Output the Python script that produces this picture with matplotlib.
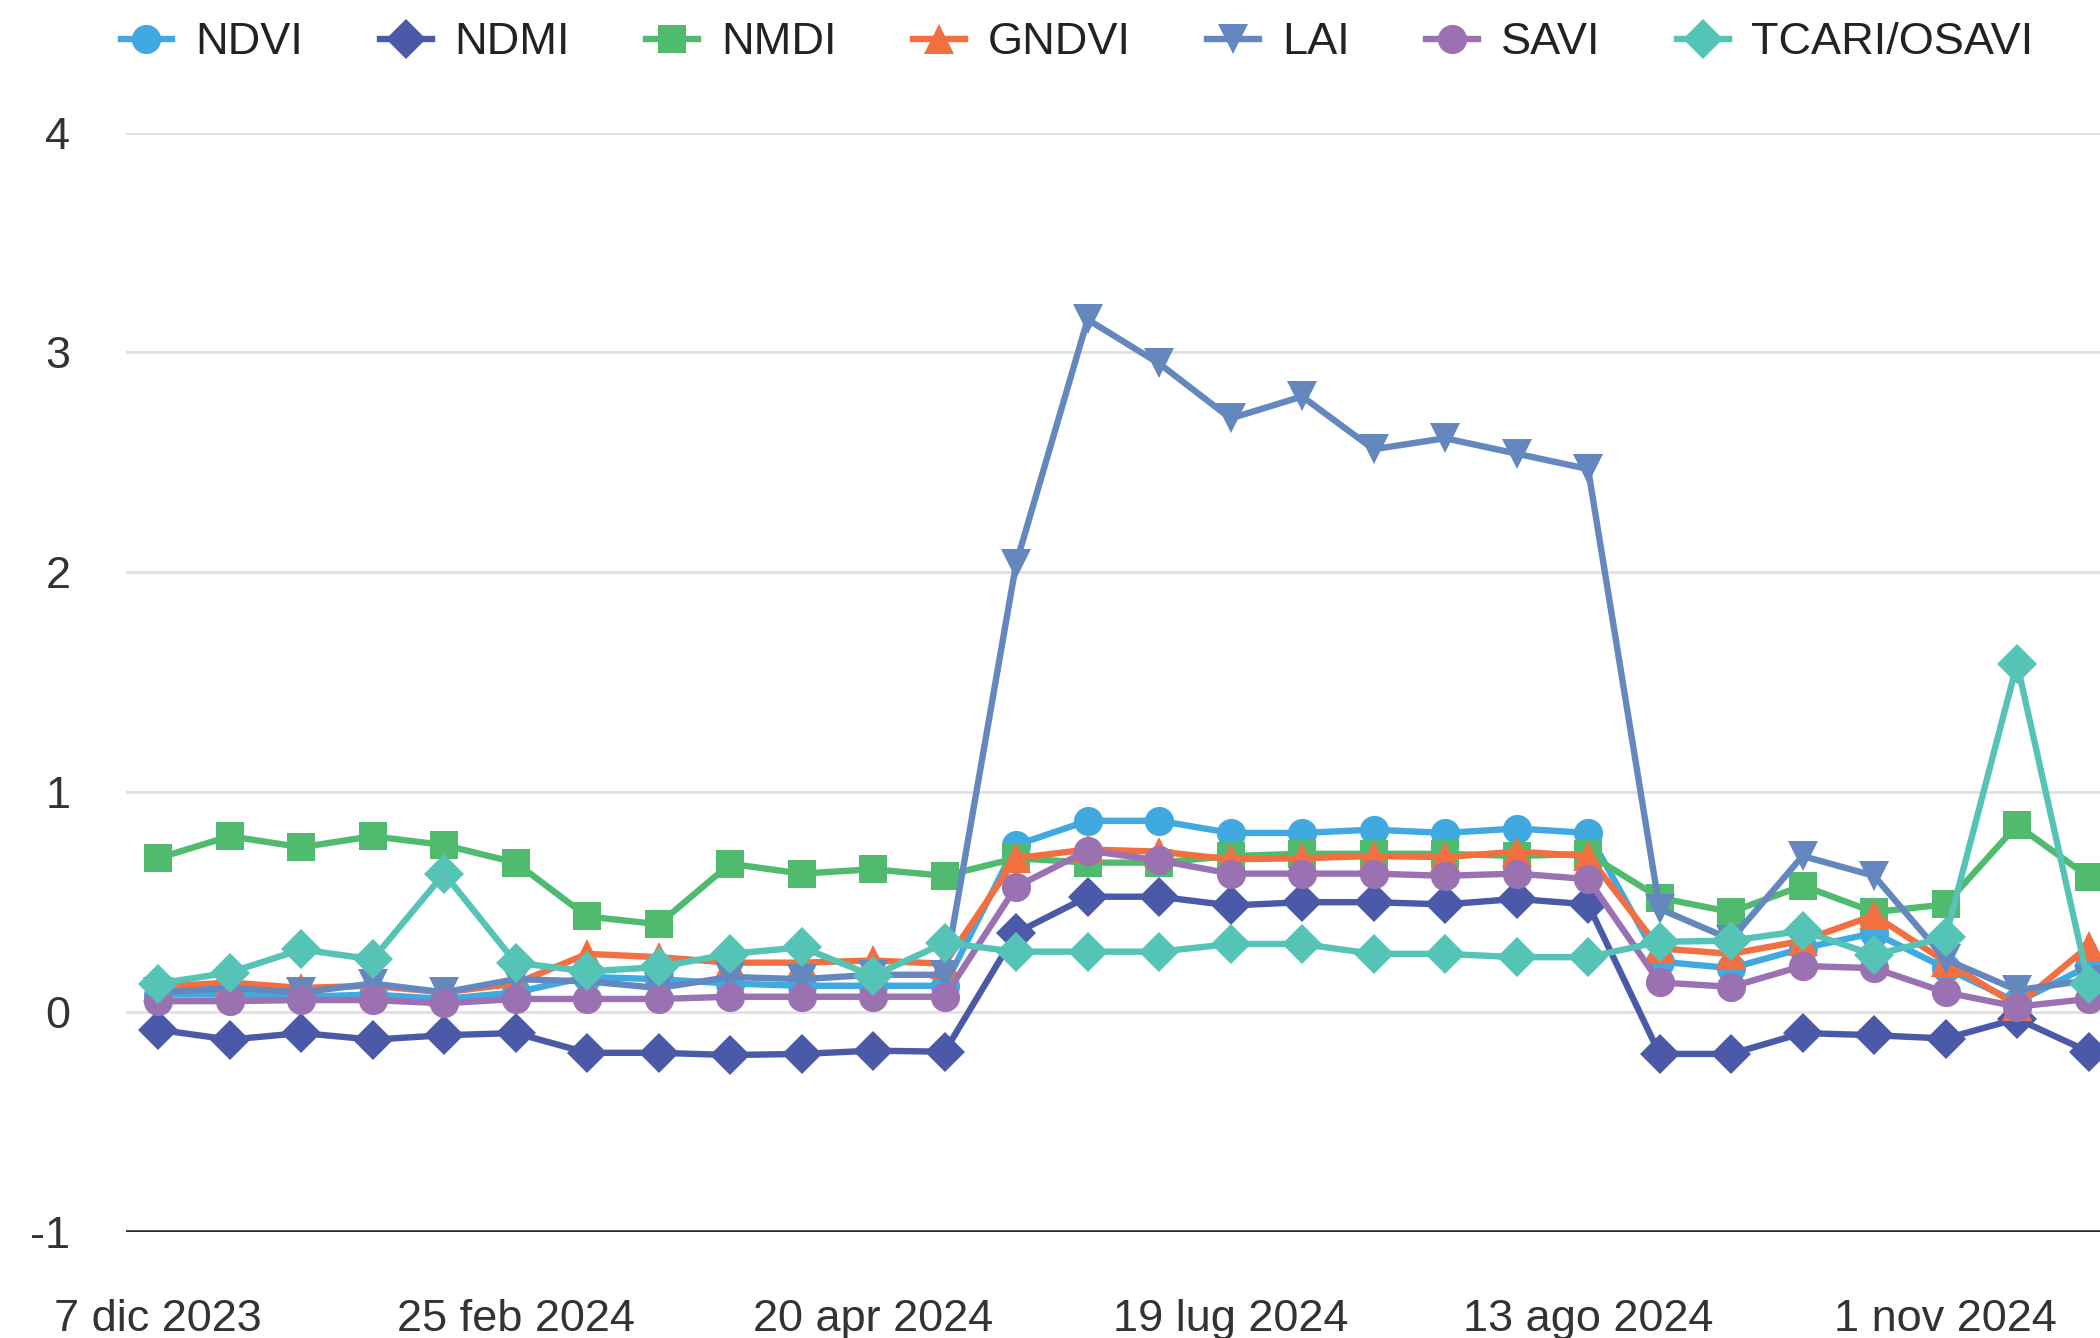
import numpy as np
import matplotlib
matplotlib.use('Agg')
from matplotlib import pyplot as plt

plt.rcParams['font.family'] = ['Liberation Sans', 'DejaVu Sans']
plt.rcParams['axes.unicode_minus'] = False

# one point per acquisition date, equally spaced
n_points = 28
tick_pos = [0, 5, 10, 15, 20, 25]
tick_labels = ['7 dic 2023', '25 feb 2024', '20 apr 2024', '19 lug 2024', '13 ago 2024', '1 nov 2024']

ndvi = [0.08, 0.08, 0.07, 0.08, 0.06, 0.09, 0.16, 0.15, 0.13, 0.12, 0.12, 0.12,
        0.76, 0.87, 0.87, 0.815, 0.815, 0.83, 0.815, 0.835, 0.815,
        0.23, 0.20, 0.29, 0.36, 0.20, 0.045, 0.21]
ndmi = [-0.08, -0.125, -0.095, -0.125, -0.105, -0.095, -0.185, -0.185, -0.195, -0.19, -0.175, -0.18,
        0.36, 0.525, 0.525, 0.485, 0.50, 0.50, 0.49, 0.515, 0.49,
        -0.19, -0.19, -0.095, -0.105, -0.12, -0.03, -0.18]
nmdi = [0.70, 0.80, 0.75, 0.80, 0.76, 0.68, 0.435, 0.40, 0.675, 0.63, 0.65, 0.62,
        0.70, 0.68, 0.68, 0.71, 0.72, 0.72, 0.72, 0.71, 0.72,
        0.52, 0.455, 0.575, 0.455, 0.49, 0.85, 0.615]
gndvi = [0.115, 0.135, 0.11, 0.12, 0.09, 0.13, 0.265, 0.25, 0.225, 0.225, 0.235, 0.22,
         0.70, 0.74, 0.73, 0.695, 0.70, 0.71, 0.705, 0.73, 0.71,
         0.29, 0.265, 0.325, 0.44, 0.23, 0.03, 0.30]
lai = [0.09, 0.11, 0.09, 0.13, 0.09, 0.15, 0.14, 0.11, 0.16, 0.15, 0.17, 0.17,
       2.04, 3.15, 2.95, 2.70, 2.80, 2.56, 2.61, 2.54, 2.47,
       0.47, 0.33, 0.71, 0.62, 0.24, 0.10, 0.145]
savi = [0.05, 0.05, 0.055, 0.055, 0.04, 0.06, 0.06, 0.06, 0.07, 0.07, 0.07, 0.07,
        0.57, 0.735, 0.69, 0.63, 0.63, 0.63, 0.62, 0.63, 0.605,
        0.135, 0.115, 0.21, 0.20, 0.09, 0.025, 0.06]
tcari = [0.13, 0.18, 0.285, 0.24, 0.63, 0.225, 0.185, 0.205, 0.265, 0.295, 0.165, 0.315,
         0.275, 0.275, 0.275, 0.31, 0.31, 0.265, 0.265, 0.25, 0.25,
         0.32, 0.325, 0.37, 0.26, 0.34, 1.585, 0.13]

names = ['NDVI', 'NDMI', 'NMDI', 'GNDVI', 'LAI', 'SAVI', 'TCARI/OSAVI']
series = [ndvi, ndmi, nmdi, gndvi, lai, savi, tcari]
colors = ['#3fa9e0', '#4a5aa8', '#50bb6e', '#f26f42', '#6488be', '#9a71b1', '#56c3b7']
markers = ['o', 'D', 's', '^', 'v', 'o', 'D']
msizes = [21, 20, 20.5, 22, 22, 21, 20]

fig = plt.figure(figsize=(21, 13.38), dpi=100)
ax = fig.add_axes([0.06, 0.0792, 0.94, 0.8217])

x = np.arange(n_points)
handles = []
for name, y, c, m, ms in zip(names, series, colors, markers, msizes):
    h, = ax.plot(x, y, color=c, marker=m, markersize=ms, linewidth=4.6,
                 markeredgewidth=0, label=name, zorder=3)
    handles.append(h)

ax.set_xlim(-0.45, 27.16)
ax.set_ylim(-1, 4)
ax.set_yticks(range(-1, 5))
ax.set_xticks(tick_pos)
ax.set_xticklabels(tick_labels)
ax.grid(axis='y', color='#e0e0e0', linewidth=2)
ax.axhline(-1, color='#2a2a2a', linewidth=2.6, zorder=2.5)
for s in ax.spines.values():
    s.set_visible(False)
ax.tick_params(axis='both', length=0, labelsize=32.5, colors='#333333')
ax.tick_params(axis='y', pad=40)
ax.tick_params(axis='x', pad=48)
for t in ax.get_yticklabels():
    t.set_horizontalalignment('right')

fig.legend(handles, names, loc='center left', bbox_to_anchor=(0.0574, 0.968),
           ncol=7, frameon=False, borderpad=0, borderaxespad=0,
           handlelength=1.15, handletextpad=0.5, columnspacing=1.7,
           fontsize=32.5, labelcolor='#222222')

fig.savefig('out.png', dpi=100)
